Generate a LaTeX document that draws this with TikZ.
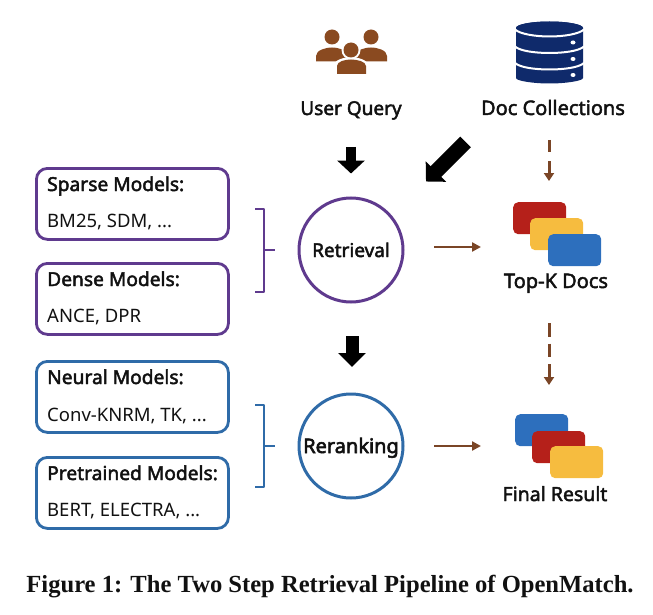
\documentclass[tikz,border=0pt]{standalone}
\usepackage{fontspec}
\setmainfont{Noto Sans}
\newfontfamily\capfont{Liberation Serif}[BoldFont={Liberation Serif Bold}]
\usetikzlibrary{arrows.meta}
\newcommand\strk[2]{\special{pdf: code 2 Tr #1 w}#2\special{pdf: code 0 Tr}}
\definecolor{purp}{HTML}{5F3A8E}
\definecolor{blu}{HTML}{2F6BA8}
\definecolor{brn}{HTML}{7A4526}
\definecolor{icobrn}{HTML}{8A4A20}
\definecolor{navy}{HTML}{0F2A6B}
\definecolor{cardred}{HTML}{B5201A}
\definecolor{cardyel}{HTML}{F6BC3F}
\definecolor{cardblu}{HTML}{2D6FBD}
\definecolor{ink}{HTML}{111111}
\tikzset{
  x=1pt,y=-1pt,
  modelbox/.style={draw,line width=2.8pt,rounded corners=11pt,minimum width=192pt,minimum height=71pt,inner sep=0pt,anchor=north west},
  stagecircle/.style={draw,circle,line width=3pt,minimum size=104pt,inner sep=0pt},
  head/.style={font=\fontsize{19.2}{22}\selectfont,text=ink,inner sep=0pt,anchor=base west},
  sub/.style={font=\fontsize{18.5}{22}\selectfont,text=ink,inner sep=0pt,anchor=base west},
  biglabel/.style={font=\fontsize{#1}{23}\selectfont,text=ink,inner sep=0pt,anchor=base},
  brace/.style={line width=2.6pt,line join=round},
  blockarrow/.style={line width=#1pt,black},
  brownarrow/.style={line width=2.8pt,brn,-{Triangle[length=9pt,width=9pt]}},
  dasharrow/.style={line width=3pt,brn,-{Triangle[length=8pt,width=10pt]}},
  card/.style={rounded corners=5pt,draw=none,minimum width=53pt,minimum height=32pt,inner sep=0pt,anchor=north west}
}
\begin{document}
\begin{tikzpicture}
\useasboundingbox (0,0) rectangle (653,615);
% people icon
\fill[icobrn] (332,37) circle (7.5);
\fill[icobrn] (371,37) circle (7.5);
\fill[icobrn] (316,61.5) -- (316,56) .. controls (316,50) and (326,47.5) .. (332,47.5) .. controls (338,47.5) and (348,50) .. (348,56) -- (348,61.5) -- cycle;
\fill[icobrn] (355,61.5) -- (355,56) .. controls (355,50) and (365,47.5) .. (371,47.5) .. controls (377,47.5) and (387,50) .. (387,56) -- (387,61.5) -- cycle;
\fill[white] (351,50) circle (9.5);
\fill[white] (334,75) -- (334,65) .. controls (334,60) and (345,57) .. (351,57) .. controls (357,57) and (368,60) .. (368,65) -- (368,75) -- cycle;
\fill[icobrn] (351,50) circle (7.5);
\fill[icobrn] (337,74) -- (337,66) .. controls (337,61.5) and (345,59.5) .. (351,59.5) .. controls (357,59.5) and (366,61.5) .. (366,66) -- (366,74) -- cycle;
% database icon
\fill[navy] (516,28) arc[start angle=180,end angle=360,x radius=33.5,y radius=6.5] -- (583,78) .. controls (583,81) and (565,83.5) .. (549.5,83.5) .. controls (534,83.5) and (516,81) .. (516,78) -- cycle;
\fill[navy] (549.5,28) ellipse[x radius=33.5,y radius=6.5];
\draw[white,line width=2pt] (515,29.5) .. controls (520,34) and (535,36.5) .. (549.5,36.5) .. controls (564,36.5) and (579,34) .. (584,29.5);
\draw[white,line width=2pt] (515,46.5) .. controls (520,51) and (535,53) .. (549.5,53) .. controls (564,53) and (579,51) .. (584,46.5);
\draw[white,line width=2pt] (515,63) .. controls (520,67.5) and (535,69.5) .. (549.5,69.5) .. controls (564,69.5) and (579,67.5) .. (584,63);
\fill[white] (573,42.5) ellipse[x radius=2.5,y radius=2];
\fill[white] (573,59) ellipse[x radius=2.5,y radius=2];
\fill[white] (573,75) ellipse[x radius=2.5,y radius=2];
% top labels
\node[biglabel=19] (uq) at (351,115) {\strk{0.45}{User Query}};
\node[biglabel=20] (dc) at (553,115) {\strk{0.45}{Doc Collections}};
% model boxes
\node[modelbox,draw=purp] (sparse) at (35,167) {};
\node[modelbox,draw=purp] (dense) at (35,262) {};
\node[modelbox,draw=blu] (neural) at (35,360) {};
\node[modelbox,draw=blu] (pre) at (35,456) {};
\node[head] (t1) at (47,191) {\strk{0.45}{Sparse Models:}};
\node[sub] (s1) at (47,227) {BM25, SDM, ...};
\node[head] (t2) at (47,286) {\strk{0.45}{Dense Models:}};
\node[sub] (s2) at (47,322) {ANCE, DPR};
\node[head] (t3) at (47,384) {\strk{0.45}{Neural Models:}};
\node[sub] (s3) at (47,421) {Conv-KNRM, TK, ...};
\node[head] (t4) at (47,480) {\strk{0.45}{Pretrained Models:}};
\node[sub] (s4) at (47,516) {BERT, ELECTRA, ...};
% circles
\node[stagecircle,draw=purp] (ret) at (351,250) {};
\node[stagecircle,draw=blu] (rer) at (351,446) {};
\node[biglabel=19] (rettext) at (351,257) {\strk{0.45}{Retrieval}};
\node[biglabel=20] (rertext) at (351,453) {\strk{0.6}{Reranking}};
% brackets
\draw[brace,purp] (255,209) -- (264,209) -- (264,292) -- (255,292);
\draw[brace,purp] (264,250) -- (275,250);
\draw[brace,blu] (255,405) -- (264,405) -- (264,487) -- (255,487);
\draw[brace,blu] (264,446) -- (275,446);
% cards
\node[card,fill=cardred] (a1) at (513,202) {};
\node[card,fill=cardyel] (a2) at (530,218) {};
\node[card,fill=cardblu] (a3) at (548,234) {};
\node[card,fill=cardblu] (b1) at (515,414) {};
\node[card,fill=cardred] (b2) at (532,431) {};
\node[card,fill=cardyel] (b3) at (550,446) {};
\node[biglabel=20] (topk) at (556,288) {\strk{0.45}{Top-K Docs}};
\node[biglabel=19.5] (final) at (555,501) {\strk{0.45}{Final Result}};
% connector ends
\coordinate (q0) at (351,147); \coordinate (q1) at (351,173.5);
\coordinate (d0) at (465.5,142); \coordinate (d1) at (426,181.5);
\coordinate (m0) at (352,336); \coordinate (m1) at (352,367);
\coordinate (c0) at (549,140); \coordinate (c1) at (549,181);
\coordinate (e0) at (549,323); \coordinate (e1) at (549,385);
\coordinate (r0) at (434,247); \coordinate (r1) at (481,247);
\coordinate (n0) at (434,446); \coordinate (n1) at (481,446);
\draw[blockarrow=10,-{Triangle[length=13pt,width=27pt]}] (q0) -- (q1);
\draw[blockarrow=13,-{Triangle[length=14pt,width=27pt]}] (m0) -- (m1);
\draw[blockarrow=15,-{Triangle[length=14pt,width=28pt]}] (d0) -- (d1);
\draw[dasharrow,dash pattern=on 12pt off 9pt] (c0) -- (c1);
\draw[dasharrow,dash pattern=on 13.5pt off 7pt] (e0) -- (e1);
\draw[brownarrow] (r0) -- (r1);
\draw[brownarrow] (n0) -- (n1);
% caption
\node[inner sep=0pt,text=ink,anchor=base,font=\capfont\bfseries\fontsize{24.6}{27}\selectfont] (cap) at (330,592) {Figure 1: The Two Step Retrieval Pipeline of OpenMatch.};
\end{tikzpicture}
\end{document}
